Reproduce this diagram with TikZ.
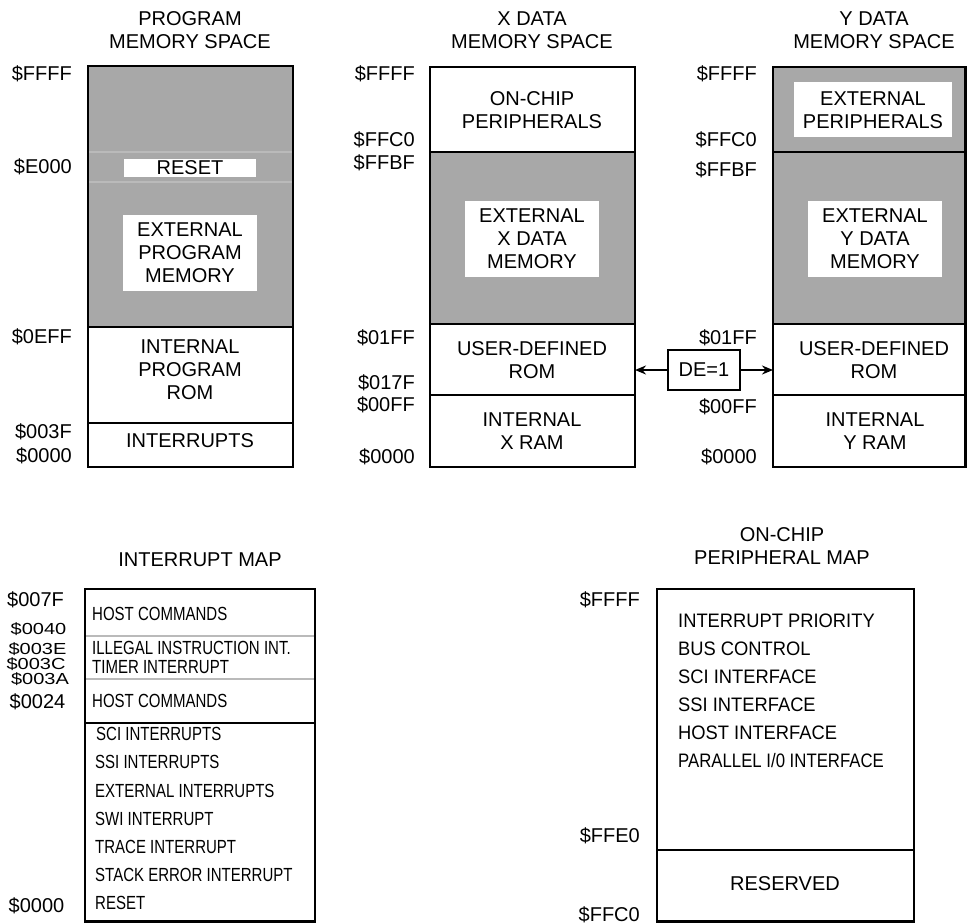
\documentclass[tikz,border=0pt]{standalone}
\usepackage{fontspec}
\setmainfont{Liberation Sans}
\newfontfamily\narrowfont[FakeStretch=0.79]{Liberation Sans}
\newfontfamily\perifont[FakeStretch=0.94]{Liberation Sans}
\newfontfamily\perinarrow[FakeStretch=0.86]{Liberation Sans}
\newcommand{\squash}[1]{\scalebox{1}[0.8]{#1}}
\usetikzlibrary{arrows.meta}
\begin{document}
\begin{tikzpicture}[x=1pt,y=-1pt,
  lbl/.style={font=\fontsize{20}{23}\selectfont, inner sep=0pt, anchor=base east},
  ilbl/.style={font=\fontsize{20}{23}\selectfont, inner sep=0pt, anchor=base},
  mtext/.style={font=\fontsize{20}{23}\selectfont, align=center, inner sep=0pt},
  itext/.style={font=\narrowfont\fontsize{19}{21}\selectfont, inner sep=0pt, anchor=base west},
  ptext/.style={font=\perifont\fontsize{19.5}{21}\selectfont, inner sep=0pt, anchor=base west},
  frame/.style={draw=black, line width=2.7pt},
  divider/.style={draw=black, line width=2.7pt},
  thinline/.style={draw=black!27, line width=1.4pt},
  arr/.style={line width=2pt, -{Stealth[length=11pt,width=9pt]}}
]
\useasboundingbox (0,0) rectangle (967,924);

% ---------------- PROGRAM MEMORY ----------------
\node[mtext] (ptitle) at (190,30) {PROGRAM\\MEMORY SPACE};
\fill[black!34] (88,66) rectangle (293,327);
\fill[white] (124,159) rectangle (256,177);
\fill[white] (123,215) rectangle (257,291);
\draw[thinline] (88,152) -- (293,152);
\draw[thinline] (88,182) -- (293,182);
\node[mtext] (preset) at (190,168) {RESET};
\node[mtext] (pext) at (190,253) {EXTERNAL\\PROGRAM\\MEMORY};
\node[mtext] (prom) at (190,370) {INTERNAL\\PROGRAM\\ROM};
\node[mtext] (pint) at (190,441) {INTERRUPTS};
\draw[divider] (88,327) -- (293,327);
\draw[divider] (88,423) -- (293,423);
\draw[frame] (88,66) rectangle (293,467);
\node[lbl] (pl1) at (72,80) {\$FFFF};
\node[lbl] (pl2) at (72,173) {\$E000};
\node[lbl] (pl3) at (72,343) {\$0EFF};
\node[lbl] (pl4) at (72,438) {\$003F};
\node[lbl] (pl5) at (72,462) {\$0000};

% ---------------- X DATA MEMORY ----------------
\node[mtext] (xtitle) at (532,30) {X DATA\\MEMORY SPACE};
\fill[black!34] (430,152) rectangle (635,324);
\fill[white] (465,201) rectangle (599,277);
\node[mtext] (xon) at (532,110) {ON-CHIP\\PERIPHERALS};
\node[mtext] (xext) at (532,239) {EXTERNAL\\X DATA\\MEMORY};
\node[mtext] (xrom) at (532,360) {USER-DEFINED\\ROM};
\node[mtext] (xram) at (532,431) {INTERNAL\\X RAM};
\draw[divider] (430,152) -- (635,152);
\draw[divider] (430,324) -- (635,324);
\draw[divider] (430,395) -- (635,395);
\draw[frame] (430,67) rectangle (635,467);
\node[lbl] (xl1) at (415,80) {\$FFFF};
\node[lbl] (xl2) at (415,146) {\$FFC0};
\node[lbl] (xl3) at (415,169) {\$FFBF};
\node[lbl] (xl4) at (415,344) {\$01FF};
\node[lbl] (xl5) at (415,389) {\$017F};
\node[lbl] (xl6) at (415,411) {\$00FF};
\node[lbl] (xl7) at (415,463) {\$0000};

% ---------------- Y DATA MEMORY ----------------
\node[mtext] (ytitle) at (874,30) {Y DATA\\MEMORY SPACE};
\fill[black!34] (773,67) rectangle (966,324);
\fill[white] (794,82) rectangle (952,137);
\fill[white] (808,201) rectangle (942,277);
\node[mtext] (yper) at (873,110) {EXTERNAL\\PERIPHERALS};
\node[mtext] (yext) at (875,239) {EXTERNAL\\Y DATA\\MEMORY};
\node[mtext] (yrom) at (874,360) {USER-DEFINED\\ROM};
\node[mtext] (yram) at (875,431) {INTERNAL\\Y RAM};
\draw[divider] (773,152) -- (966,152);
\draw[divider] (773,324) -- (966,324);
\draw[divider] (773,395) -- (966,395);
\draw[frame] (773,67) rectangle (965.5,467);
\node[lbl] (yl1) at (757,80) {\$FFFF};
\node[lbl] (yl2) at (757,146) {\$FFC0};
\node[lbl] (yl3) at (757,176) {\$FFBF};
\node[lbl] (yl4) at (757,344) {\$01FF};
\node[lbl] (yl5) at (757,413) {\$00FF};
\node[lbl] (yl6) at (757,463) {\$0000};

% ---------------- DE=1 ----------------
\node[draw, line width=2pt, minimum width=72pt, minimum height=40pt, inner sep=0pt,
      font=\fontsize{20}{23}\selectfont] (de) at (704,370) {DE=1};
\coordinate (xedge) at (635,370);
\coordinate (yedge) at (773,370);
\draw[arr] (de.west) -- (xedge);
\draw[arr] (de.east) -- (yedge);

% ---------------- INTERRUPT MAP ----------------
\node[mtext] (ititle) at (200,560) {INTERRUPT MAP};
\draw[thinline] (85,636) -- (315,636);
\draw[thinline] (85,679) -- (315,679);
\draw[divider] (85,723) -- (315,723);
\draw[frame] (85,589) rectangle (315,921.5);
\node[itext] (i1) at (92,620.5) {HOST COMMANDS};
\node[itext] (i2) at (92,654) {ILLEGAL INSTRUCTION INT.};
\node[itext] (i3) at (92,673) {TIMER INTERRUPT};
\node[itext] (i4) at (92,707) {HOST COMMANDS};
\node[itext] (i5) at (96,740.5) {SCI INTERRUPTS};
\node[itext] (i6) at (95,768.5) {SSI INTERRUPTS};
\node[itext] (i7) at (95,797) {EXTERNAL INTERRUPTS};
\node[itext] (i8) at (95,825) {SWI INTERRUPT};
\node[itext] (i9) at (95,853) {TRACE INTERRUPT};
\node[itext] (i10) at (95,881) {STACK ERROR INTERRUPT};
\node[itext] (i11) at (95,909) {RESET};
\node[ilbl] (il1) at (35.5,606) {\$007F};
\node[ilbl] (il2) at (38.5,634) {\squash{\$0040}};
\node[ilbl] (il3) at (37.5,654) {\squash{\$003E}};
\node[ilbl] (il4) at (36,669) {\squash{\$003C}};
\node[ilbl] (il5) at (40,684) {\squash{\$003A}};
\node[ilbl] (il6) at (37.5,708) {\$0024};
\node[ilbl] (il7) at (36.5,912) {\$0000};

% ---------------- ON-CHIP PERIPHERAL MAP ----------------
\node[mtext] (otitle) at (782,546.5) {ON-CHIP\\PERIPHERAL MAP};
\draw[divider] (657,850) -- (914,850);
\draw[frame] (657,589) rectangle (914,921.5);
\node[ptext] (o1) at (678,627) {INTERRUPT PRIORITY};
\node[ptext] (o2) at (678,655) {BUS CONTROL};
\node[ptext] (o3) at (678,683) {SCI INTERFACE};
\node[ptext] (o4) at (678,711) {SSI INTERFACE};
\node[ptext] (o5) at (678,739) {HOST INTERFACE};
\node[ptext, font=\perinarrow\fontsize{19.5}{21}\selectfont] (o6) at (678,767) {PARALLEL I/0 INTERFACE};
\node[mtext] (ores) at (785,884) {RESERVED};
\node[lbl] (ol1) at (640,606) {\$FFFF};
\node[lbl] (ol2) at (640,842) {\$FFE0};
\node[lbl] (ol3) at (640,921) {\$FFC0};
\end{tikzpicture}
\end{document}
